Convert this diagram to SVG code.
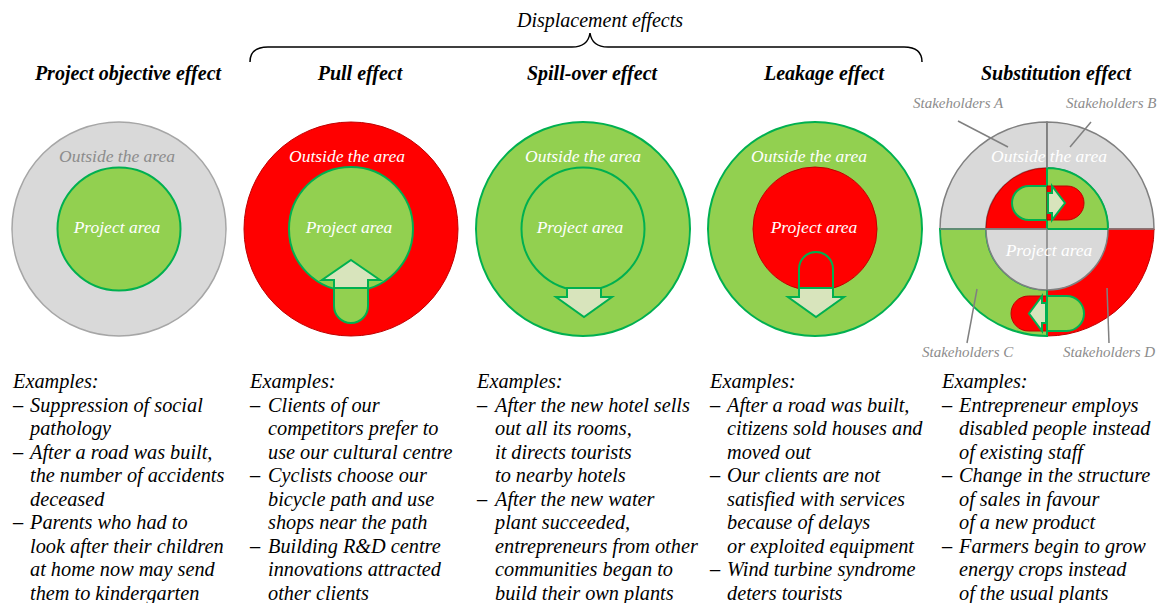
<svg xmlns="http://www.w3.org/2000/svg" width="1161" height="603" viewBox="0 0 1161 603">
  <style>
    .hdr { font-family: "Liberation Serif", "Times New Roman", serif; font-style: italic; font-weight: bold; font-size: 20px; fill: #000; text-anchor: middle; }
    .brace-lbl { font-family: "Liberation Serif", "Times New Roman", serif; font-style: italic; font-size: 20px; fill: #000; text-anchor: middle; }
    .lbl { font-family: "Liberation Serif", "Times New Roman", serif; font-style: italic; font-size: 17.5px; fill: #fff; text-anchor: middle; }
    .lbl-grey { fill: #8c8c8c; }
    .stk { font-family: "Liberation Serif", "Times New Roman", serif; font-style: italic; font-size: 15px; fill: #8c8c8c; }
    .ex { font-family: "Liberation Serif", "Times New Roman", serif; font-style: italic; font-size: 20.3px; fill: #000; }
    .grey { fill: #d9d9d9; stroke: #a6a6a6; stroke-width: 1.5; }
    .grey2 { fill: #d9d9d9; stroke: #808080; stroke-width: 1.5; }
    .green { fill: #92d050; stroke: #00b050; stroke-width: 2; }
    .red { fill: #ff0000; stroke: #c00000; stroke-width: 1; }
    .pale { fill: #d8e4bc; stroke: #00b050; stroke-width: 2; stroke-linejoin: miter; }
    .lead { stroke: #808080; stroke-width: 1.5; fill: none; }
    .brace { stroke: #000; stroke-width: 1.5; fill: none; }
  </style>

  <!-- curly brace grouping the displacement effects -->
  <g id="displacement">
    <text class="brace-lbl" x="600" y="27">Displacement effects</text>
    <path class="brace" d="M 250 62 Q 250 47 268 47 L 572 47 Q 588 47 590 33 Q 592 47 608 47 L 904 47 Q 922 47 922 62"/>
  </g>

  <!-- column headings -->
  <g id="headings">
    <text class="hdr" x="128" y="80">Project objective effect</text>
    <text class="hdr" x="360" y="80">Pull effect</text>
    <text class="hdr" x="592" y="80">Spill-over effect</text>
    <text class="hdr" x="824" y="80">Leakage effect</text>
    <text class="hdr" x="1056" y="80">Substitution effect</text>
  </g>

  <!-- project objective effect -->
  <g id="objective">
    <circle class="grey" cx="119" cy="229" r="107"/>
    <circle class="green" cx="119" cy="229" r="61.5"/>
    <text class="lbl lbl-grey" x="117" y="162">Outside the area</text>
    <text class="lbl" x="117" y="233">Project area</text>
  </g>

  <!-- pull effect -->
  <g id="pull">
    <circle class="red" cx="351" cy="229" r="107"/>
    <circle class="green" cx="351" cy="229" r="62"/>
    <path class="green" d="M 334 282 L 334 306 A 17 17 0 0 0 368 306 L 368 282"/>
    <polygon class="pale" points="351,260 380,280 368,280 368,288 334,288 334,280 322,280"/>
    <text class="lbl" x="347" y="162">Outside the area</text>
    <text class="lbl" x="349" y="233">Project area</text>
  </g>

  <!-- spill-over effect -->
  <g id="spillover">
    <circle class="green" cx="583" cy="229" r="107"/>
    <circle class="green" cx="583" cy="229" r="61.5"/>
    <polygon class="pale" points="567,288 601,288 601,297 612,297 584,317 556,297 567,297"/>
    <text class="lbl" x="583" y="162">Outside the area</text>
    <text class="lbl" x="580" y="233">Project area</text>
  </g>

  <!-- leakage effect -->
  <g id="leakage">
    <circle class="green" cx="815" cy="229" r="107"/>
    <circle class="red" cx="815" cy="229" r="62"/>
    <path class="green" style="fill:#ff0000" d="M 799 290 L 799 269 A 17 17 0 0 1 833 269 L 833 290"/>
    <polygon class="pale" points="799,288 833,288 833,297 844,297 816,317 788,297 799,297"/>
    <text class="lbl" x="809" y="162">Outside the area</text>
    <text class="lbl" x="814" y="233">Project area</text>
  </g>

  <!-- substitution effect: four stakeholder quadrants -->
  <g id="substitution">
    <path class="grey2" d="M 940 229 A 107 107 0 0 1 1047 122 L 1047 168 A 61 61 0 0 0 986 229 Z"/>
    <path class="grey2" d="M 1047 122 A 107 107 0 0 1 1154 229 L 1108 229 A 61 61 0 0 0 1047 168 Z"/>
    <path class="red" d="M 1154 229 A 107 107 0 0 1 1047 336 L 1047 290 A 61 61 0 0 0 1108 229 Z"/>
    <path class="green" d="M 1047 336 A 107 107 0 0 1 940 229 L 986 229 A 61 61 0 0 0 1047 290 Z"/>
    <path class="red" d="M 1047 229 L 986 229 A 61 61 0 0 1 1047 168 Z"/>
    <path class="grey2" d="M 986 229 A 61 61 0 0 0 1108 229 Z"/>
    <path class="green" d="M 1047 229 L 1047 168 A 61 61 0 0 1 1108 229 Z"/>
    <line class="lead" x1="940" y1="229" x2="1047" y2="229"/>
    <line class="lead" x1="1108" y1="229" x2="1154" y2="229"/>
    <line class="lead" x1="1047" y1="122" x2="1047" y2="168"/>
    <line class="lead" x1="1047" y1="229" x2="1047" y2="290"/>
    <line x1="1047" y1="290" x2="1047" y2="336" stroke="#00b050" stroke-width="1.5"/>

    <!-- top flow: left to right -->
    <path class="green" d="M 1047 186 L 1029 186 A 17 17 0 0 0 1029 220 L 1047 220 Z"/>
    <path class="red" d="M 1047 186 L 1067 186 A 17 17 0 0 1 1067 220 L 1047 220 Z"/>
    <polygon class="pale" points="1048,193 1052,193 1052,186 1065,203 1052,220 1052,213 1048,213"/>

    <!-- bottom flow: right to left -->
    <path class="red" d="M 1047 296 L 1028.5 296 A 17.5 17.5 0 0 0 1028.5 331 L 1047 331 Z"/>
    <path class="green" d="M 1047 296 L 1066.5 296 A 17.5 17.5 0 0 1 1066.5 331 L 1047 331 Z"/>
    <polygon class="pale" points="1046,303 1042,303 1042,296 1029,313.5 1042,331 1042,323 1046,323"/>

    <text class="lbl" x="1049" y="162">Outside the area</text>
    <text class="lbl" x="1049" y="256">Project area</text>

    <!-- stakeholder callouts -->
    <line class="lead" x1="958" y1="121" x2="1008" y2="147"/>
    <line class="lead" x1="1091" y1="122" x2="1070" y2="147"/>
    <line class="lead" x1="967" y1="343" x2="977" y2="289"/>
    <line class="lead" x1="1109" y1="343" x2="1107" y2="288"/>
    <text class="stk" x="913" y="108">Stakeholders A</text>
    <text class="stk" x="1066" y="108">Stakeholders B</text>
    <text class="stk" x="922" y="357">Stakeholders C</text>
    <text class="stk" x="1063" y="357">Stakeholders D</text>
  </g>

  <!-- example lists -->
  <g id="examples-objective" class="ex">
    <text x="13" y="388">Examples:</text>
    <text x="13" y="411.5">–</text><text x="30" y="411.5">Suppression of social</text>
    <text x="30" y="435">pathology</text>
    <text x="13" y="458.5">–</text><text x="30" y="458.5">After a road was built,</text>
    <text x="30" y="482">the number of accidents</text>
    <text x="30" y="505.5">deceased</text>
    <text x="13" y="529">–</text><text x="30" y="529">Parents who had to</text>
    <text x="30" y="552.5">look after their children</text>
    <text x="30" y="576">at home now may send</text>
    <text x="30" y="599.5">them to kindergarten</text>
  </g>
  <g id="examples-pull" class="ex">
    <text x="250" y="388">Examples:</text>
    <text x="250" y="411.5">–</text><text x="268" y="411.5">Clients of our</text>
    <text x="268" y="435">competitors prefer to</text>
    <text x="268" y="458.5">use our cultural centre</text>
    <text x="250" y="482">–</text><text x="268" y="482">Cyclists choose our</text>
    <text x="268" y="505.5">bicycle path and use</text>
    <text x="268" y="529">shops near the path</text>
    <text x="250" y="552.5">–</text><text x="268" y="552.5">Building R&amp;D centre</text>
    <text x="268" y="576">innovations attracted</text>
    <text x="268" y="599.5">other clients</text>
  </g>
  <g id="examples-spillover" class="ex">
    <text x="477" y="388">Examples:</text>
    <text x="477" y="411.5">–</text><text x="495" y="411.5">After the new hotel sells</text>
    <text x="495" y="435">out all its rooms,</text>
    <text x="495" y="458.5">it directs tourists</text>
    <text x="495" y="482">to nearby hotels</text>
    <text x="477" y="505.5">–</text><text x="495" y="505.5">After the new water</text>
    <text x="495" y="529">plant succeeded,</text>
    <text x="495" y="552.5">entrepreneurs from other</text>
    <text x="495" y="576">communities began to</text>
    <text x="495" y="599.5">build their own plants</text>
  </g>
  <g id="examples-leakage" class="ex">
    <text x="710" y="388">Examples:</text>
    <text x="710" y="411.5">–</text><text x="727" y="411.5">After a road was built,</text>
    <text x="727" y="435">citizens sold houses and</text>
    <text x="727" y="458.5">moved out</text>
    <text x="710" y="482">–</text><text x="727" y="482">Our clients are not</text>
    <text x="727" y="505.5">satisfied with services</text>
    <text x="727" y="529">because of delays</text>
    <text x="727" y="552.5">or exploited equipment</text>
    <text x="710" y="576">–</text><text x="727" y="576">Wind turbine syndrome</text>
    <text x="727" y="599.5">deters tourists</text>
  </g>
  <g id="examples-substitution" class="ex">
    <text x="942" y="388">Examples:</text>
    <text x="942" y="411.5">–</text><text x="959" y="411.5">Entrepreneur employs</text>
    <text x="959" y="435">disabled people instead</text>
    <text x="959" y="458.5">of existing staff</text>
    <text x="942" y="482">–</text><text x="959" y="482">Change in the structure</text>
    <text x="959" y="505.5">of sales in favour</text>
    <text x="959" y="529">of a new product</text>
    <text x="942" y="552.5">–</text><text x="959" y="552.5">Farmers begin to grow</text>
    <text x="959" y="576">energy crops instead</text>
    <text x="959" y="599.5">of the usual plants</text>
  </g>
</svg>
